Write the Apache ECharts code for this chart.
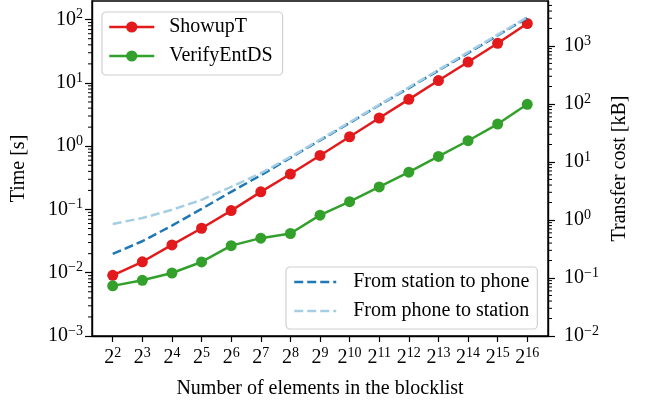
<!DOCTYPE html>
<html>
<head>
<meta charset="utf-8">
<script src="https://cdn.jsdelivr.net/npm/echarts@6/dist/echarts.min.js"></script>
<style>html,body{margin:0;padding:0;background:#fff}#c{width:646px;height:404px}</style>
</head>
<body>
<div id="c"></div>
<script>
// x: exponent n of 2^n (number of elements in blocklist)
const exponents = [2,3,4,5,6,7,8,9,10,11,12,13,14,15,16];
// Time [s]
const showupT = [0.0091,0.0149,0.0275,0.0505,0.096,0.19,0.363,0.714,1.41,2.79,5.5,10.9,21.4,42.4,87];
const verifyEntDS = [0.0062,0.0076,0.0099,0.0148,0.0268,0.0352,0.0417,0.0813,0.133,0.227,0.389,0.689,1.22,2.24,4.6];
// Transfer cost [kB]
const stationToPhone = [0.26,0.43,0.80,1.55,3.06,5.9,11.8,23.6,47,95,188,377,752,1517,3060];
const phoneToStation = [0.855,1.08,1.5,2.22,3.73,6.4,12.2,24.3,48.4,96.8,194,387,782,1567,3140];
// tick exponents
const xTickExps = [2,3,4,5,6,7,8,9,10,11,12,13,14,15,16];
const leftTickExps = [-3,-2,-1,0,1,2];
const rightTickExps = [-2,-1,0,1,2,3];

const X_MIN = 1.3, X_MAX = 16.7;
const L_MIN = -3, L_MAX = 2.295;
const R_MIN = -2, R_MAX = 3.775;

const lg = v => Math.log10(v);
const pair = (ys) => exponents.map((n,i) => [n, lg(ys[i])]);

function minorList(lo, hi) {
  const out = [];
  for (let n = Math.floor(lo); n <= Math.ceil(hi); n++) {
    for (let k = 2; k <= 9; k++) {
      const v = Math.log10(k) + n;
      if (v > lo && v < hi) out.push(v);
    }
  }
  return out;
}
const leftMinor = minorList(L_MIN, L_MAX).map(v => [X_MIN, v]);
const rightMinor = minorList(R_MIN, R_MAX).map(v => [X_MAX, v]);

const FONT = 'Liberation Serif';
const FS = 20;
const fmtExp = (e) => { e = Math.round(e); return e < 0 ? '\u2212' + (-e) : String(e); };
const richLab = {
  b: {fontFamily: FONT, fontSize: FS, color: '#000'},
  s: {fontFamily: FONT, fontSize: 14, color: '#000', padding: [0,0,10,0]}
};

const RED = '#e31a1c', GREEN = '#33a02c', DBLUE = '#1f78b4', LBLUE = '#a6cee3';

function minorTick(dir) {
  return function (params, api) {
    const p = api.coord([api.value(0), api.value(1)]);
    return {type: 'line', shape: {x1: p[0], y1: p[1], x2: p[0] + dir * 4, y2: p[1]},
            style: {stroke: '#000', lineWidth: 1}};
  };
}

const chart = echarts.init(document.getElementById('c'), null, {renderer: 'canvas'});
chart.setOption({
  animation: false,
  backgroundColor: '#fff',
  grid: {left: 92, right: 98, top: 1, bottom: 62, show: true, borderColor: '#000', borderWidth: 1.4, containLabel: false},
  legend: [
    {
      data: ['ShowupT', 'VerifyEntDS'],
      orient: 'vertical', left: 102, top: 12,
      backgroundColor: '#fff', borderColor: '#d0d0d0', borderWidth: 1.2, borderRadius: 4,
      padding: [5, 10, 9, 6], itemGap: 9, itemWidth: 45, itemHeight: 14,
      lineStyle: {width: 2.5},
      textStyle: {fontFamily: FONT, fontSize: FS, color: '#000', padding: [0,0,0,10]}
    },
    {
      data: ['From station to phone', 'From phone to station'],
      orient: 'vertical', left: 286, top: 267,
      backgroundColor: '#fff', borderColor: '#d0d0d0', borderWidth: 1.2, borderRadius: 4,
      padding: [5, 8, 8, 7], itemGap: 9, itemWidth: 42, itemHeight: 14,
      itemStyle: {opacity: 0},
      lineStyle: {width: 2.5},
      textStyle: {fontFamily: FONT, fontSize: FS, color: '#000', padding: [0,0,0,12]}
    }
  ],
  xAxis: {
    type: 'value', min: X_MIN, max: X_MAX,
    name: 'Number of elements in the blocklist', nameLocation: 'middle', nameGap: 43,
    nameTextStyle: {fontFamily: FONT, fontSize: FS, color: '#000'},
    axisLine: {show: true, onZero: false, lineStyle: {color: '#000', width: 1.4}},
    axisTick: {show: true, length: 6, lineStyle: {color: '#000', width: 1.2}, customValues: xTickExps},
    axisLabel: {customValues: xTickExps, margin: 10, rich: richLab,
      formatter: v => '{b|2}{s|' + fmtExp(v) + '}'},
    splitLine: {show: false}
  },
  yAxis: [
    {
      type: 'value', min: L_MIN, max: L_MAX, position: 'left',
      name: 'Time [s]', nameLocation: 'middle', nameGap: 63, nameRotate: 90,
      nameTextStyle: {fontFamily: FONT, fontSize: FS, color: '#000'},
      axisLine: {show: true, lineStyle: {color: '#000', width: 1.4}},
      axisTick: {show: true, length: 7, lineStyle: {color: '#000', width: 1.2}, customValues: leftTickExps},
      axisLabel: {customValues: leftTickExps, margin: 9, rich: richLab,
        formatter: v => '{b|10}{s|' + fmtExp(v) + '}'},
      splitLine: {show: false}
    },
    {
      type: 'value', min: R_MIN, max: R_MAX, position: 'right',
      name: 'Transfer cost [kB]', nameLocation: 'middle', nameGap: 62, nameRotate: 90,
      nameTextStyle: {fontFamily: FONT, fontSize: FS, color: '#000'},
      axisLine: {show: true, lineStyle: {color: '#000', width: 1.4}},
      axisTick: {show: true, length: 7, lineStyle: {color: '#000', width: 1.2}, customValues: rightTickExps},
      axisLabel: {customValues: rightTickExps, margin: 16, rich: richLab,
        formatter: v => '{b|10}{s|' + fmtExp(v) + '}'},
      splitLine: {show: false}
    }
  ],
  series: [
    {name: 'ShowupT', type: 'line', yAxisIndex: 0, data: pair(showupT),
     symbol: 'circle', symbolSize: 11, color: RED, lineStyle: {width: 2.5, color: RED}, itemStyle: {color: RED}, z: 3},
    {name: 'VerifyEntDS', type: 'line', yAxisIndex: 0, data: pair(verifyEntDS),
     symbol: 'circle', symbolSize: 11, color: GREEN, lineStyle: {width: 2.5, color: GREEN}, itemStyle: {color: GREEN}, z: 3},
    {name: 'From station to phone', type: 'line', yAxisIndex: 1, data: pair(stationToPhone),
     symbol: 'none', color: DBLUE, lineStyle: {width: 2.5, color: DBLUE, type: [9, 4]}, z: 4},
    {name: 'From phone to station', type: 'line', yAxisIndex: 1, data: pair(phoneToStation),
     symbol: 'none', color: LBLUE, lineStyle: {width: 2.5, color: LBLUE, type: [9, 4]}, z: 4},
    {type: 'custom', yAxisIndex: 0, data: leftMinor, renderItem: minorTick(-1), silent: true, encode: {x: 0, y: 1}, z: 5},
    {type: 'custom', yAxisIndex: 1, data: rightMinor, renderItem: minorTick(1), silent: true, encode: {x: 0, y: 1}, z: 5}
  ]
});
</script>
</body>
</html>
